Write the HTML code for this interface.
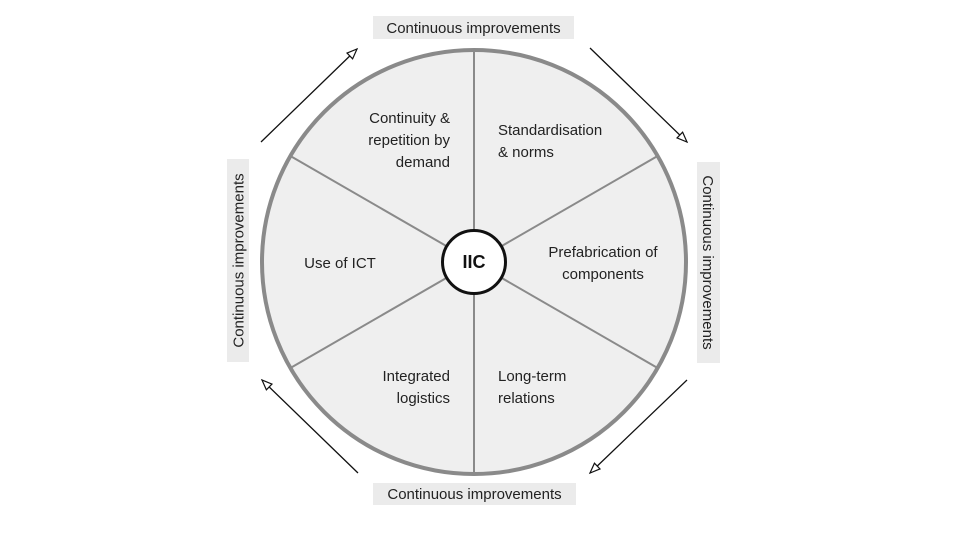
<!DOCTYPE html>
<html>
<head>
<meta charset="utf-8">
<style>
  html, body { margin: 0; padding: 0; background: #ffffff; }
  svg { display: block; }
  text { font-family: "Liberation Sans", Arial, sans-serif; fill: #222; }
</style>
</head>
<body>
<svg width="960" height="540" viewBox="0 0 960 540" xmlns="http://www.w3.org/2000/svg">
  <defs>
    <marker id="ah" markerUnits="userSpaceOnUse" markerWidth="14" markerHeight="12" refX="11" refY="5" orient="auto">
      <path d="M1,1 L11,5 L1,9 Z" fill="#fff" stroke="#111" stroke-width="1.2"/>
    </marker>
  </defs>

  <!-- Outer circle -->
  <circle cx="474" cy="262" r="212" fill="#efefef" stroke="#8a8a8a" stroke-width="4"/>

  <!-- Spokes -->
  <g stroke="#8a8a8a" stroke-width="2">
    <line x1="474" y1="262" x2="474" y2="50"/>
    <line x1="474" y1="262" x2="474" y2="474"/>
    <line x1="474" y1="262" x2="657.6" y2="156"/>
    <line x1="474" y1="262" x2="657.6" y2="368"/>
    <line x1="474" y1="262" x2="290.4" y2="156"/>
    <line x1="474" y1="262" x2="290.4" y2="368"/>
  </g>

  <!-- Center circle -->
  <circle cx="474" cy="262" r="31.5" fill="#ffffff" stroke="#111" stroke-width="3"/>
  <text x="474" y="268" text-anchor="middle" font-size="18" font-weight="bold" style="fill:#111">IIC</text>

  <!-- Segment labels -->
  <g font-size="15">
    <text x="450" y="123" text-anchor="end">Continuity &amp;</text>
    <text x="450" y="145" text-anchor="end">repetition by</text>
    <text x="450" y="167" text-anchor="end">demand</text>

    <text x="498" y="135">Standardisation</text>
    <text x="498" y="157">&amp; norms</text>

    <text x="603" y="257" text-anchor="middle">Prefabrication of</text>
    <text x="603" y="279" text-anchor="middle">components</text>

    <text x="340" y="268" text-anchor="middle">Use of ICT</text>

    <text x="450" y="381" text-anchor="end">Integrated</text>
    <text x="450" y="403" text-anchor="end">logistics</text>

    <text x="498" y="381">Long-term</text>
    <text x="498" y="403">relations</text>
  </g>

  <!-- Label boxes -->
  <rect x="373" y="16" width="201" height="23" fill="#ebebeb"/>
  <text x="473.5" y="33" text-anchor="middle" font-size="15">Continuous improvements</text>

  <rect x="373" y="483" width="203" height="22" fill="#ebebeb"/>
  <text x="474.5" y="499" text-anchor="middle" font-size="15">Continuous improvements</text>

  <rect x="227" y="159" width="22" height="203" fill="#ebebeb"/>
  <text transform="translate(243.5,260.5) rotate(-90)" text-anchor="middle" font-size="15">Continuous improvements</text>

  <rect x="697" y="162" width="23" height="201" fill="#ebebeb"/>
  <text transform="translate(703,262.5) rotate(90)" text-anchor="middle" font-size="15">Continuous improvements</text>

  <!-- Arrows -->
  <g stroke="#111" stroke-width="1.3" fill="none">
    <line x1="261" y1="142" x2="357" y2="49" marker-end="url(#ah)"/>
    <line x1="590" y1="48" x2="687" y2="142" marker-end="url(#ah)"/>
    <line x1="687" y1="380" x2="590" y2="473" marker-end="url(#ah)"/>
    <line x1="358" y1="473" x2="262" y2="380" marker-end="url(#ah)"/>
  </g>
</svg>
</body>
</html>
